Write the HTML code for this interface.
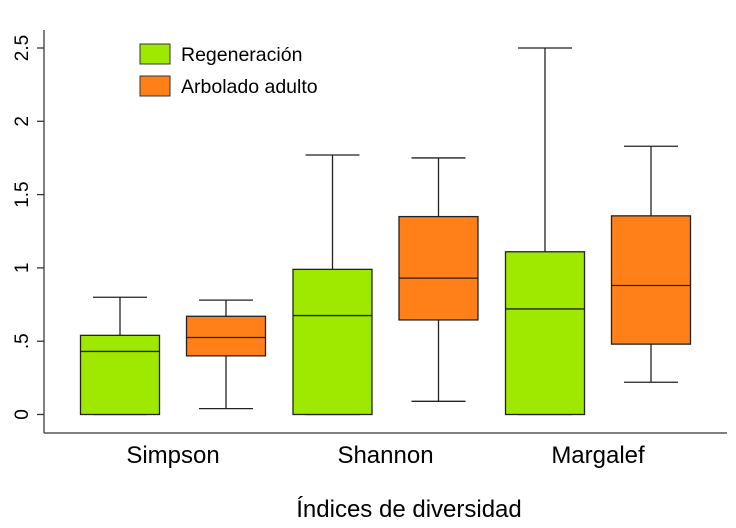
<!DOCTYPE html>
<html><head><meta charset="utf-8"><style>
body{margin:0;background:#fff}
svg{display:block;font-family:"Liberation Sans",Arial,sans-serif}
</style></head><body>
<svg id="chart" width="736" height="528" viewBox="0 0 736 528"></svg>
<script>
const categories=["Simpson","Shannon","Margalef"];
const seriesNames=["Regeneración","Arbolado adulto"];
const seriesColors=["#9FE800","#FF8019"];
const regenStats=[[0,0,0.43,0.54,0.80],[0,0,0.675,0.99,1.77],[0,0,0.72,1.11,2.50]];
const adultStats=[[0.04,0.40,0.525,0.67,0.78],[0.09,0.645,0.93,1.35,1.75],[0.22,0.48,0.88,1.355,1.83]];
const yTicks=[0,0.5,1,1.5,2,2.5];
const yTickLabels=["0",".5","1","1.5","2","2.5"];
const svg=document.getElementById('chart');
const NS="http://www.w3.org/2000/svg";
const y=v=>414.5-v*146.6;
const groupX=i=>120+i*212.5;
function mk(t,a,parent){const e=document.createElementNS(NS,t);for(const k in a)e.setAttribute(k,a[k]);(parent||svg).appendChild(e);return e;}
const ya=mk('line',{x1:44,y1:30,x2:44,y2:433,stroke:'#555','stroke-width':1.5});


const xa=mk('line',{x1:44,y1:433,x2:727,y2:433,stroke:'#555','stroke-width':1.5});


yTicks.forEach((v,i)=>{
 const t=mk('line',{x1:37,y1:y(v),x2:44,y2:y(v),stroke:'#333','stroke-width':1.3});
 
 
 const l=mk('text',{x:0,y:0,'font-size':19,'text-anchor':'middle',fill:'#000',transform:`translate(28,${y(v)}) rotate(-90)`});
 l.textContent=yTickLabels[i];
 
 
});
function box(cx,s,color,name){
 const g=mk('g',{});
 
 
 const hw=39.5,cw=27;
 mk('line',{x1:cx,y1:y(s[4]),x2:cx,y2:y(s[3]),stroke:'#222','stroke-width':1.3},g);
 mk('line',{x1:cx,y1:y(s[0]),x2:cx,y2:y(s[1]),stroke:'#222','stroke-width':1.3},g);
 mk('line',{x1:cx-cw,y1:y(s[4]),x2:cx+cw,y2:y(s[4]),stroke:'#222','stroke-width':1.3},g);
 mk('line',{x1:cx-cw,y1:y(s[0]),x2:cx+cw,y2:y(s[0]),stroke:'#222','stroke-width':1.3},g);
 mk('rect',{x:cx-hw,y:y(s[3]),width:2*hw,height:y(s[1])-y(s[3]),fill:color,stroke:'#222','stroke-width':1.3},g);
 mk('line',{x1:cx-hw,y1:y(s[2]),x2:cx+hw,y2:y(s[2]),stroke:'#222','stroke-width':1.3},g);
}
categories.forEach((c,i)=>{
 box(groupX(i),regenStats[i],seriesColors[0],'box-regeneracion-'+c.toLowerCase());
 box(groupX(i)+106,adultStats[i],seriesColors[1],'box-adulto-'+c.toLowerCase());
 const l=mk('text',{x:groupX(i)+53,y:463,'font-size':24,'text-anchor':'middle',fill:'#000'});
 l.textContent=c;
 
 
});
const xt=mk('text',{x:409,y:517,'font-size':24,'text-anchor':'middle',fill:'#000'});
xt.textContent="Índices de diversidad";


seriesNames.forEach((n,i)=>{
 const g=mk('g',{});
 
 
 mk('rect',{x:140,y:44+i*32,width:30,height:20,fill:seriesColors[i],stroke:'#333','stroke-width':1},g);
 const t=mk('text',{x:181,y:61+i*32,'font-size':19.5,fill:'#000'},g);
 t.textContent=n;
});
</script>
</body></html>
